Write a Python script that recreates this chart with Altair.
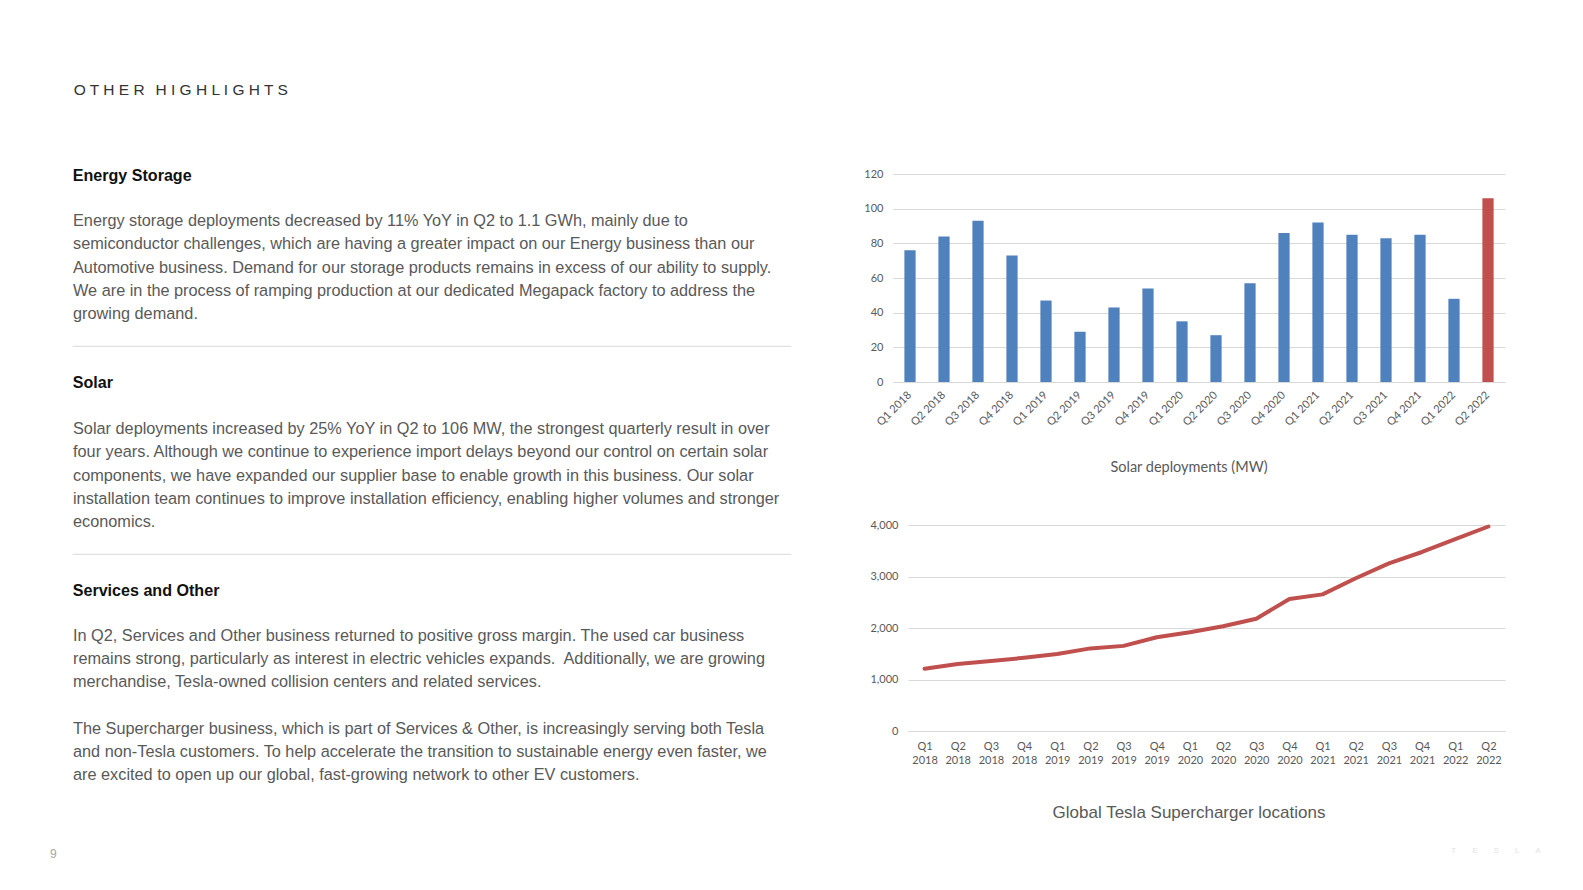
import altair as alt
import pandas as pd

# ---------------- data ----------------
quarters = ["Q1 2018", "Q2 2018", "Q3 2018", "Q4 2018",
            "Q1 2019", "Q2 2019", "Q3 2019", "Q4 2019",
            "Q1 2020", "Q2 2020", "Q3 2020", "Q4 2020",
            "Q1 2021", "Q2 2021", "Q3 2021", "Q4 2021",
            "Q1 2022", "Q2 2022"]
solar_mw = [76, 84, 93, 73, 47, 29, 43, 54, 35, 27, 57, 86, 92, 85, 83, 85, 48, 106]
supercharger_locations = [1210, 1303, 1359, 1421, 1496, 1604, 1653, 1821, 1917,
                          2035, 2181, 2564, 2653, 2966, 3254, 3476, 3724, 3971]
solar_ticks = [0, 20, 40, 60, 80, 100, 120]
supercharger_ticks = [0, 1000, 2000, 3000, 4000]
highlight_quarter = "Q2 2022"

page_title = "OTHER HIGHLIGHTS"
section_titles = ["Energy Storage", "Solar", "Services and Other"]
energy_storage_text = [
    "Energy storage deployments decreased by 11% YoY in Q2 to 1.1 GWh, mainly due to",
    "semiconductor challenges, which are having a greater impact on our Energy business than our",
    "Automotive business. Demand for our storage products remains in excess of our ability to supply.",
    "We are in the process of ramping production at our dedicated Megapack factory to address the",
    "growing demand.",
]
solar_text = [
    "Solar deployments increased by 25% YoY in Q2 to 106 MW, the strongest quarterly result in over",
    "four years. Although we continue to experience import delays beyond our control on certain solar",
    "components, we have expanded our supplier base to enable growth in this business. Our solar",
    "installation team continues to improve installation efficiency, enabling higher volumes and stronger",
    "economics.",
]
services_text = [
    "In Q2, Services and Other business returned to positive gross margin. The used car business",
    "remains strong, particularly as interest in electric vehicles expands.\u00a0 Additionally, we are growing",
    "merchandise, Tesla-owned collision centers and related services.",
]
supercharger_text = [
    "The Supercharger business, which is part of Services & Other, is increasingly serving both Tesla",
    "and non-Tesla customers. To help accelerate the transition to sustainable energy even faster, we",
    "are excited to open up our global, fast-growing network to other EV customers.",
]
solar_chart_title = "Solar deployments (MW)"
supercharger_chart_title = "Global Tesla Supercharger locations"
page_number = "9"
logo_text = "TESLA"

# ---------------- style / layout ----------------
BODY_FONT = "Liberation Sans"
CHART_FONT = "Lato"
TEXT_GRAY = "#595959"
GRID = "#d9d9d9"
BLUE = "#4F81BD"
RED = "#C0504D"

LEFT_W, LEFT_H = 885, 874
LINE_H = 23.2
BODY_X = 65.0
HEAD_X = 64.7
HEAD_Y = [167.7, 374.6, 582.6]
PARA_Y = [213.1, 421.1, 628.0, 720.9]
RULE_Y = [338.3, 546.3]

BAR_W, BAR_H = 612, 208
LINE_W, LINE_H_PLOT = 597, 206
LINE_OFFSET_X = 15
TOP_SPACER = 23
V_SPACING = 143

# ---------------- left text panel ----------------
spaced_title = "\u2002\u2009".join(" ".join(w) for w in page_title.split())
title_df = pd.DataFrame({"text": [spaced_title], "x": [65.7], "y": [82.4]})

head_df = pd.DataFrame({"text": section_titles, "x": [HEAD_X] * 3, "y": HEAD_Y})

body_rows = []
for para, y0 in zip([energy_storage_text, solar_text, services_text, supercharger_text], PARA_Y):
    for i, line in enumerate(para):
        body_rows.append({"text": line, "x": BODY_X, "y": y0 + i * LINE_H})
body_df = pd.DataFrame(body_rows)

rule_df = pd.DataFrame({"x": [64.7] * 2, "x2": [783.5] * 2, "y": RULE_Y})
pn_df = pd.DataFrame({"text": [page_number], "x": [42.0], "y": [845.5]})


def txt(df, **kw):
    return alt.Chart(df).mark_text(align="left", baseline="middle", **kw).encode(
        x=alt.X("x:Q", scale=None, axis=None),
        y=alt.Y("y:Q", scale=None, axis=None),
        text="text:N",
    )


left = alt.layer(
    txt(title_df, font=BODY_FONT, fontSize=15.5, color="#333333"),
    txt(head_df, font=BODY_FONT, fontSize=16.1, fontWeight="bold", color="#111111"),
    txt(body_df, font=BODY_FONT, fontSize=16.3, color=TEXT_GRAY),
    alt.Chart(rule_df).mark_rule(color=GRID, strokeWidth=1).encode(
        x=alt.X("x:Q", scale=None, axis=None), x2="x2:Q",
        y=alt.Y("y:Q", scale=None, axis=None)),
    txt(pn_df, font=BODY_FONT, fontSize=12, color="#a6a6a6"),
).properties(width=LEFT_W, height=LEFT_H)

# ---------------- bar chart ----------------
solar_df = pd.DataFrame({"quarter": quarters, "mw": solar_mw})
bars = alt.Chart(solar_df).mark_bar().encode(
    x=alt.X("quarter:N", sort=quarters, title=None,
            scale=alt.Scale(paddingInner=0.67, paddingOuter=0.335),
            axis=alt.Axis(labelAngle=-45, labelAlign="right", labelBaseline="middle",
                          ticks=False, domainColor=GRID, labelFont=CHART_FONT,
                          labelFontSize=11, labelColor=TEXT_GRAY, labelPadding=11)),
    y=alt.Y("mw:Q", title=None, scale=alt.Scale(domain=[0, 120]),
            axis=alt.Axis(values=solar_ticks, grid=True, gridColor=GRID, domain=False,
                          ticks=False, labelFont=CHART_FONT, labelFontSize=11,
                          labelColor=TEXT_GRAY, labelPadding=10)),
    color=alt.condition(alt.datum.quarter == highlight_quarter, alt.value(RED), alt.value(BLUE)),
)
bar_title = alt.Chart(pd.DataFrame({"t": [solar_chart_title]})).mark_text(
    font=CHART_FONT, fontSize=14.5, color=TEXT_GRAY, align="center", baseline="middle"
).encode(x=alt.value(296), y=alt.value(294), text="t:N")
bar_chart = alt.layer(bars, bar_title).properties(width=BAR_W, height=BAR_H)

# ---------------- line chart ----------------
sc_df = pd.DataFrame({"quarter": quarters, "locations": supercharger_locations})
line = alt.Chart(sc_df).mark_line(color=RED, strokeWidth=4, strokeCap="round",
                                  strokeJoin="round").encode(
    x=alt.X("quarter:N", sort=quarters, title=None,
            scale=alt.Scale(type="point", padding=0.5),
            axis=alt.Axis(labelAngle=0, labelExpr="split(datum.label, ' ')",
                          labelLineHeight=14, ticks=False, domainColor=GRID,
                          labelFont=CHART_FONT, labelFontSize=11, labelColor=TEXT_GRAY,
                          labelPadding=9)),
    y=alt.Y("locations:Q", title=None, scale=alt.Scale(domain=[0, 4000]),
            axis=alt.Axis(values=supercharger_ticks, format=",.0f", grid=True, gridColor=GRID,
                          domain=False, ticks=False, labelFont=CHART_FONT, labelFontSize=11,
                          labelColor=TEXT_GRAY, labelPadding=10)),
)
line_title = alt.Chart(pd.DataFrame({"t": [supercharger_chart_title]})).mark_text(
    font=BODY_FONT, fontSize=17, color=TEXT_GRAY, align="center", baseline="middle"
).encode(x=alt.value(281), y=alt.value(288), text="t:N")
logo = alt.Chart(pd.DataFrame({"t": ["\u2003\u2003".join(logo_text)]})).mark_text(
    font=BODY_FONT, fontSize=8, color="#e3e3e3", align="center", baseline="middle"
).encode(x=alt.value(588), y=alt.value(326), text="t:N")
line_chart = alt.layer(line, line_title, logo).properties(width=LINE_W, height=LINE_H_PLOT)


def spacer(w, h):
    return alt.Chart(pd.DataFrame({"v": [0]})).mark_point(opacity=0, size=1).encode(
        x=alt.value(w / 2), y=alt.value(h / 2)).properties(width=w, height=h)


line_row = alt.hconcat(spacer(LINE_OFFSET_X, LINE_H_PLOT), line_chart, spacing=0, bounds="flush")
right = alt.vconcat(spacer(10, TOP_SPACER), bar_chart, line_row, spacing=V_SPACING, bounds="flush")

chart = alt.hconcat(left, right, spacing=0, bounds="flush").properties(
    padding=0, background="white"
).configure_view(strokeWidth=0)

chart.save("out.html", embed_options={"renderer": "svg", "actions": False})
